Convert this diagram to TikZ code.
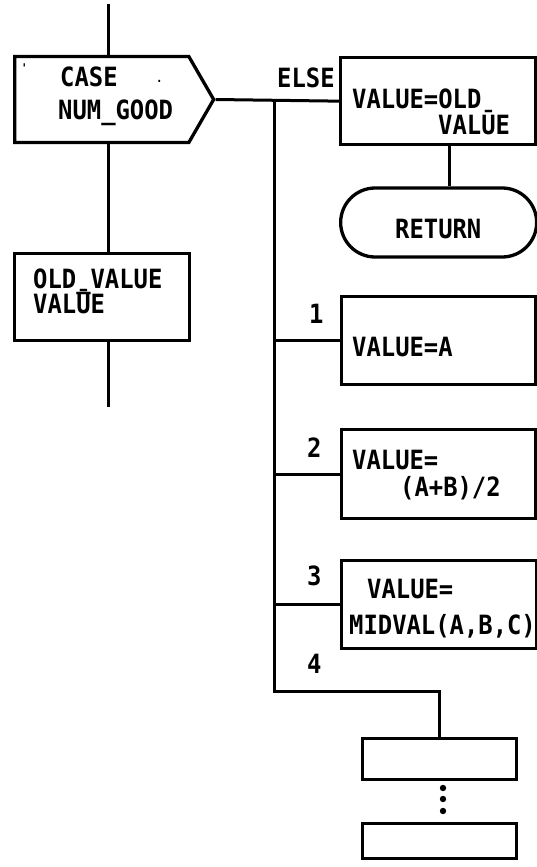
\documentclass[tikz,border=0pt]{standalone}
\usepackage{fontspec}
\newfontfamily\plotfont{DejaVu Sans Mono}[FakeStretch=0.9]
\usetikzlibrary{shapes.symbols,shapes.misc}
\begin{document}
\begin{tikzpicture}[x=1pt,y=-1pt,
  ln/.style={line width=3pt},
  boxst/.style={draw,line width=3.3pt,rectangle,inner sep=0pt,anchor=north west},
  txt/.style={font=\plotfont\bfseries\fontsize{26.5}{26.5}\selectfont,inner sep=0pt,anchor=base west},
  speck/.style={font=\plotfont\bfseries\fontsize{12}{12}\selectfont,inner sep=0pt,anchor=base west}
]
\useasboundingbox (0,0) rectangle (536,867);
% left column
\coordinate (top) at (108,4);
\node[draw,line width=3.3pt,signal,signal to=east,signal pointer angle=120,
      minimum width=199pt,minimum height=86pt,inner sep=0pt,anchor=west] (case) at (13,99.5) {};
\node[boxst,minimum width=175pt,minimum height=87pt] (old) at (13,252) {};
\coordinate (bot) at (108,407);
\draw[ln] (top) -- (case.north -| top);
\draw[ln] (case.south -| top) -- (old.north -| top);
\draw[ln] (old.south -| bot) -- (bot);
\node[txt] (tcase) at (60,86) {CASE};
\node[txt] (tnum) at (58,119) {NUM\_GOOD};
\node[speck] (m1) at (21,72) {'};
\node[speck] (m2) at (156,82) {.};
\node[txt] (told1) at (33,288) {OLD\_VALUE};
\node[txt] (told2) at (33,313) {VALŪE};
% right column
\node[boxst,minimum width=195pt,minimum height=87pt] (else) at (339,56) {};
\node[draw,line width=3.3pt,rounded rectangle,minimum width=196pt,minimum height=69pt,inner sep=0pt,anchor=west] (ret) at (339,222.5) {};
\node[boxst,minimum width=194pt,minimum height=88pt] (b1) at (340,295) {};
\node[boxst,minimum width=194pt,minimum height=89pt] (b2) at (340,428) {};
\node[boxst,minimum width=195pt,minimum height=88pt] (b3) at (340,559) {};
\node[boxst,minimum width=154pt,minimum height=41pt] (b4) at (361,737) {};
\node[boxst,minimum width=154pt,minimum height=35pt] (b5) at (361,822) {};
\coordinate (ttop) at (274,99.5);
\coordinate (tbot) at (274,691);
\draw[ln] (case.east) -- (else.west);
\draw[ln] (ttop) -- (tbot) -| (b4.north);
\draw[ln] (b1.west -| ttop) -- (b1.west);
\draw[ln] (b2.west -| ttop) -- (b2.west);
\draw[ln] (b3.west -| ttop) -- (b3.west);
\draw[ln] ([xshift=11.5pt]else.south) -- ([xshift=11.5pt]else.south |- ret.north);
\foreach \yy [count=\i] in {788,799,811} \fill (443,\yy) circle[radius=3.2pt] coordinate (dot\i);
\node[txt] (telse) at (277,88) {ELSE};
\node[txt] (te1) at (352,108) {VALUE=OLD};
\node[txt] (te2) at (438,134) {VALŪE};
\node[txt] (tret) at (395,238) {RETURN};
\node[txt] (l1) at (309,323) {1};
\node[txt] (t1) at (352,356) {VALUE=A};
\node[speck] (m3) at (493,300) {-};
\node[txt] (l2) at (307,457) {2};
\node[txt] (t2a) at (352,469) {VALUE=};
\node[txt] (t2b) at (400,496) {(A+B)/2};
\node[txt] (l3) at (307,585) {3};
\node[txt] (t3a) at (367,598) {VALUE=};
\node[txt] (t3b) at (349,634) {MIDVAL(A,B,C)};
\node[txt] (l4) at (307,673) {4};
\end{tikzpicture}
\end{document}
